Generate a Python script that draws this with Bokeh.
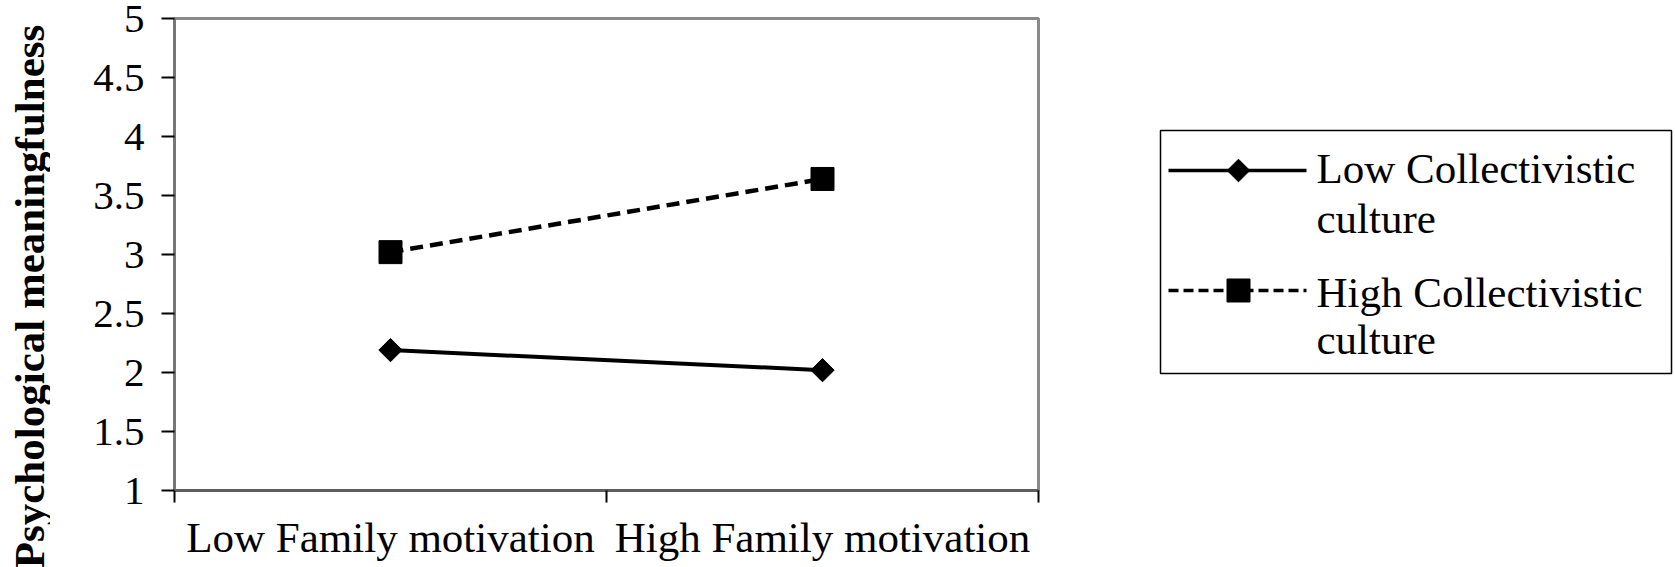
import numpy as np
from bokeh.plotting import figure
from bokeh.models import Range1d, FixedTicker
from bokeh.layouts import row
from bokeh.embed import file_html
from bokeh.resources import INLINE
from bokeh.core.properties import value

# ---- data ----
categories = ["Low Family motivation", "High Family motivation"]
low_collectivistic = [2.19, 2.02]
high_collectivistic = [3.02, 3.64]
series_names = ["Low Collectivistic culture", "High Collectivistic culture"]
y_ticks = [1, 1.5, 2, 2.5, 3, 3.5, 4, 4.5, 5]
y_tick_labels = ["1", "1.5", "2", "2.5", "3", "3.5", "4", "4.5", "5"]
y_title = "Psychological meaningfulness"

FONT = "Liberation Serif"
H = 567
DY = 19  # vertical correction for the side panels

x_pos = [i + 0.5 for i in range(len(categories))]
boundaries = list(range(len(categories) + 1))


def side_panel(w):
    f = figure(frame_width=w, frame_height=H, title=None,
               x_range=Range1d(0, w), y_range=Range1d(H, 0),
               output_backend="svg", toolbar_location=None,
               x_axis_type=None, y_axis_type=None,
               min_border_left=0, min_border_right=0,
               min_border_top=0, min_border_bottom=0)
    f.xgrid.visible = False
    f.ygrid.visible = False
    f.outline_line_color = None
    f.border_fill_color = "white"
    return f


# ---- y title panel ----
TW = 50
t = side_panel(TW)
t.text([29], [297 - DY], text=[y_title], angle=np.pi / 2,
       text_font=value(FONT), text_font_style="bold", text_font_size=value("43px"),
       text_align="center", text_baseline="alphabetic", text_color="black")

# ---- main plot ----
W1 = 1090 - TW
p = figure(width=W1, height=H, title=None,
           x_range=Range1d(0, len(categories)), y_range=Range1d(y_ticks[0], y_ticks[-1]),
           output_backend="svg", toolbar_location=None,
           min_border_left=174 - TW, min_border_right=52,
           min_border_top=18, min_border_bottom=77)
p.xgrid.visible = False
p.ygrid.visible = False
p.outline_line_color = "#8a8a8a"
p.outline_line_width = 3
p.background_fill_color = "white"
p.border_fill_color = "white"

# x axis: labels centred on categories, tick marks at category boundaries
p.xaxis.ticker = FixedTicker(ticks=x_pos, minor_ticks=boundaries)
p.xaxis.major_label_overrides = {x: c for x, c in zip(x_pos, categories)}
p.xaxis.major_tick_out = 0
p.xaxis.major_tick_in = 0
p.xaxis.minor_tick_out = 12
p.xaxis.minor_tick_in = 0
p.xaxis.minor_tick_line_color = "black"
p.xaxis.minor_tick_line_width = 2
p.xaxis.axis_line_color = "#5e5e5e"
p.xaxis.axis_line_width = 3
p.xaxis.major_label_text_font = FONT
p.xaxis.major_label_text_font_size = "43px"
p.xaxis.major_label_text_color = "black"
p.xaxis.major_label_standoff = 11

# y axis
p.yaxis.ticker = FixedTicker(ticks=y_ticks, minor_ticks=[])
p.yaxis.major_label_overrides = dict(zip(y_ticks, y_tick_labels))
p.yaxis.major_tick_out = 13
p.yaxis.major_tick_in = 0
p.yaxis.major_tick_line_color = "black"
p.yaxis.major_tick_line_width = 2
p.yaxis.axis_line_color = "#777777"
p.yaxis.axis_line_width = 3
p.yaxis.major_label_text_font = FONT
p.yaxis.major_label_text_font_size = "41px"
p.yaxis.major_label_text_color = "black"
p.yaxis.major_label_standoff = 17

# series
p.line(x_pos, low_collectivistic, line_color="black", line_width=4)
p.scatter(x_pos, low_collectivistic, marker="square", angle=np.pi / 4, size=16.5,
          fill_color="black", line_color="black")
p.line(x_pos, high_collectivistic, line_color="black", line_width=4.5, line_dash="13 7")
p.scatter(x_pos, high_collectivistic, marker="square", size=23,
          fill_color="black", line_color="black")

# ---- legend panel ----
W2 = 1675 - 1090
q = side_panel(W2)
q.quad(left=[70], right=[W2 - 4], top=[131 - DY], bottom=[374 - DY],
       fill_color=None, line_color="black", line_width=1.5)

rows_y = [171 - DY, 291 - DY]
text_y = [[169 - DY, 219 - DY], [293 - DY, 340 - DY]]
dashes = ["solid", "10 5"]
for i, (name, yy, ty, dash) in enumerate(zip(series_names, rows_y, text_y, dashes)):
    q.line([78, 216], [yy, yy], line_color="black", line_width=3.5, line_dash=dash)
    if i == 0:
        q.scatter([148], [yy], marker="square", angle=np.pi / 4, size=16,
                  fill_color="black", line_color="black")
    else:
        q.scatter([148], [yy], marker="square", size=23,
                  fill_color="black", line_color="black")
    first, second = name.rsplit(" ", 1)
    q.text([226, 226], ty, text=[first, second],
           text_font=value(FONT), text_font_size=value("43px"),
           text_baseline="alphabetic", text_align="left", text_color="black")

layout = row(t, p, q)
open("out.html", "w").write(file_html(layout, INLINE))
